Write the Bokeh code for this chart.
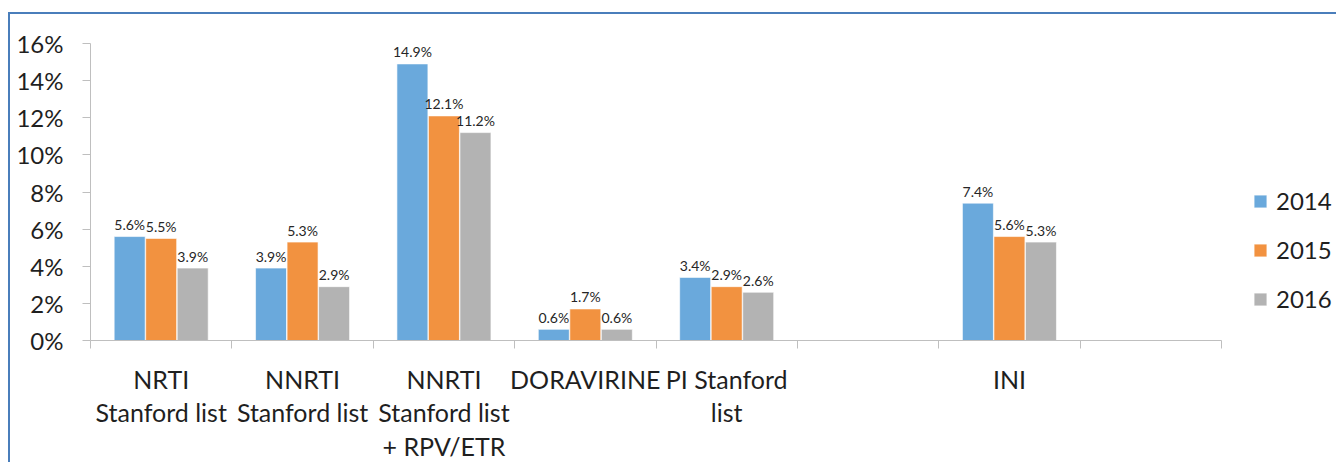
from bokeh.plotting import figure
from bokeh.models import (ColumnDataSource, FixedTicker, PrintfTickFormatter, Legend,
                          LegendItem, Range1d)
from bokeh.core.properties import value
from bokeh.embed import file_html
from bokeh.resources import INLINE

# ---- data ----
categories = ["NRTI\nStanford list", "NNRTI\nStanford list", "NNRTI\nStanford list\n+ RPV/ETR",
              "DORAVIRINE", "PI Stanford\nlist", "", "INI", ""]
years = ["2014", "2015", "2016"]
v2014 = [5.6, 3.9, 14.9, 0.6, 3.4, None, 7.4, None]
v2015 = [5.5, 5.3, 12.1, 1.7, 2.9, None, 5.6, None]
v2016 = [3.9, 2.9, 11.2, 0.6, 2.6, None, 5.3, None]
y_ticks = [0, 2, 4, 6, 8, 10, 12, 14, 16]

colors = ["#6aa9dc", "#f29240", "#b3b3b3"]
series = [v2014, v2015, v2016]
offsets = [-0.223, 0.0, 0.223]
bar_w = 0.219
FONT = "Lato"
TXT = "#1f1f1f"

n = len(categories)
W, H = 1328, 450
left_b, right_b = 80, 2
plot_px = 1131                      # pixel width of the category area
frame_px = W - left_b - right_b     # frame extends to the right to host the legend
p = figure(width=W, height=H, output_backend="svg", toolbar_location=None,
           x_range=Range1d(0, n * frame_px / plot_px), y_range=Range1d(0, 16),
           min_border_left=left_b, min_border_right=right_b, min_border_top=29,
           min_border_bottom=121,
           background_fill_color="white", border_fill_color="white")
p.styles = {"border-left": "2px solid #4a7ebb", "border-top": "2px solid #4a7ebb",
            "margin-top": "12px", "margin-left": "8px"}
p.outline_line_color = None
p.xgrid.grid_line_color = None
p.ygrid.grid_line_color = None

renderers = []
for vals, col, off, yr in zip(series, colors, offsets, years):
    xs = [i + 0.5 + off for i, v in enumerate(vals) if v is not None]
    ys = [v for v in vals if v is not None]
    labels = [f"{v:.1f}%" for v in ys]
    src = ColumnDataSource(dict(x=xs, top=ys, label=labels))
    r = p.vbar(x="x", top="top", width=bar_w, bottom=0, source=src, fill_color=col,
               line_color="white", line_alpha=0.6, line_width=1)
    renderers.append((yr, r))
    p.text(x="x", y="top", text="label", source=src, text_align="center",
           text_baseline="alphabetic", y_offset=-12, text_font=value(FONT),
           text_font_size="14px", text_color="#262626")

# y axis
ya = p.yaxis[0]
ya.ticker = FixedTicker(ticks=y_ticks)
ya.formatter = PrintfTickFormatter(format="%d%%")
ya.axis_line_color = "#bfbfbf"
ya.major_tick_line_color = "#bfbfbf"
ya.major_tick_out = 8
ya.major_tick_in = 0
ya.minor_tick_line_color = None
ya.major_label_standoff = 19
ya.major_label_text_font = FONT
ya.major_label_text_font_size = "24px"
ya.major_label_text_color = TXT

# x axis
xa = p.xaxis[0]
xa.bounds = (0, n)
xa.ticker = FixedTicker(ticks=[i + 0.5 for i in range(n)], minor_ticks=list(range(n + 1)))
xa.major_label_overrides = {i + 0.5: c for i, c in enumerate(categories)}
xa.axis_line_color = "#bfbfbf"
xa.major_tick_line_color = None
xa.major_tick_out = 0
xa.major_tick_in = 0
xa.minor_tick_line_color = "#bfbfbf"
xa.minor_tick_out = 8
xa.minor_tick_in = 0
xa.major_label_standoff = 15
xa.major_label_text_font = FONT
xa.major_label_text_font_size = "25px"
xa.major_label_text_color = TXT
xa.major_label_text_line_height = 1.13
xa.major_label_text_align = "center"

legend = Legend(items=[LegendItem(label=yr, renderers=[r]) for yr, r in renderers],
                location=(1162, 27), glyph_width=16, glyph_height=16, label_standoff=8,
                label_text_font=FONT, label_text_font_size="24px", label_text_color=TXT,
                label_height=24, spacing=20, padding=0, margin=0, border_line_color=None,
                background_fill_alpha=0)
p.add_layout(legend, "center")

open("out.html", "w").write(file_html(p, INLINE))
